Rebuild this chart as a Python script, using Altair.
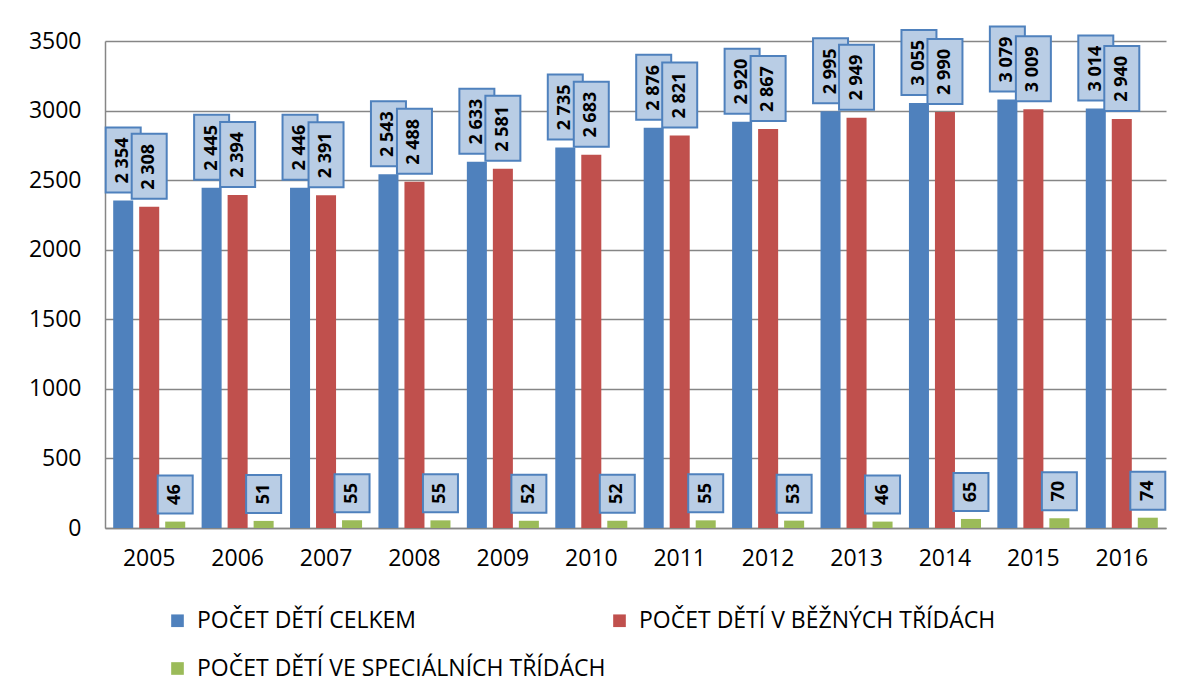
import altair as alt
import pandas as pd

years = ["2005", "2006", "2007", "2008", "2009", "2010", "2011", "2012", "2013", "2014", "2015", "2016"]
series = ["POČET DĚTÍ CELKEM", "POČET DĚTÍ V BĚŽNÝCH TŘÍDÁCH", "POČET DĚTÍ VE SPECIÁLNÍCH TŘÍDÁCH"]
celkem = [2354, 2445, 2446, 2543, 2633, 2735, 2876, 2920, 2995, 3055, 3079, 3014]
bezne = [2308, 2394, 2391, 2488, 2581, 2683, 2821, 2867, 2949, 2990, 3009, 2940]
specialni = [46, 51, 55, 55, 52, 52, 55, 53, 46, 65, 70, 74]
colors = ["#4F81BD", "#C0504D", "#9BBB59"]

rows = []
for i, y in enumerate(years):
    for s, vals in zip(series, [celkem, bezne, specialni]):
        v = vals[i]
        rows.append({"rok": y, "serie": s, "hodnota": v,
                     "popisek": f"{v:,}".replace(",", " ")})
df = pd.DataFrame(rows)

FONT = "Open Sans"

x = alt.X("rok:N", sort=years, title=None,
          scale=alt.Scale(paddingInner=0, paddingOuter=0),
          axis=alt.Axis(labelAngle=0, labelFontSize=23, labelPadding=19, ticks=False,
                        domainColor="#868686", domainWidth=1.5, labelColor="#000000"))
xo = alt.XOffset("serie:N", sort=series,
                 scale=alt.Scale(paddingInner=0.23, paddingOuter=0.315))
yv = alt.Y("hodnota:Q", title=None,
           scale=alt.Scale(domain=[0, 3500], nice=False),
           axis=alt.Axis(values=[0, 500, 1000, 1500, 2000, 2500, 3000, 3500], format="d",
                         labelFontSize=23, labelPadding=24, ticks=False,
                         domainColor="#868686", domainWidth=1.5,
                         gridColor="#868686", gridWidth=1.5, labelColor="#000000"))

base = alt.Chart(df)

bars = base.mark_bar().encode(
    x=x, xOffset=xo, y=yv,
    color=alt.Color("serie:N", sort=series,
                    scale=alt.Scale(domain=series, range=colors),
                    legend=alt.Legend(title=None, orient="none", legendX=61, legendY=568,
                                      direction="horizontal",
                                      columns=2, gridAlign="all", columnPadding=2,
                                      rowPadding=24, symbolType="square", symbolSize=160,
                                      symbolStrokeWidth=0, labelFontSize=23, labelOffset=8,
                                      labelLimit=600, labelColor="#000000", labelFont=FONT))
)

big = base.transform_filter("datum.hodnota >= 1000")
small = base.transform_filter("datum.hodnota < 1000")

box_style = dict(color="#B9CDE5", stroke="#4F81BD", strokeWidth=2, width=35)

big_box = big.mark_bar(yOffset=-8, y2Offset=-73, **box_style).encode(
    x=x, xOffset=xo, y=yv, y2="hodnota:Q")
small_box = small.mark_bar(yOffset=-8, y2Offset=-46, **box_style).encode(
    x=x, xOffset=xo, y=yv, y2="hodnota:Q")

text_style = dict(angle=270, align="center", baseline="middle", fontWeight="bold",
                  fontSize=18, font=FONT, color="#000000")
big_text = big.mark_text(yOffset=-40, **text_style).encode(
    x=x, xOffset=xo, y=yv, text="popisek:N")
small_text = small.mark_text(yOffset=-27, **text_style).encode(
    x=x, xOffset=xo, y=yv, text="popisek:N")

chart = alt.layer(bars, big_box, small_box, big_text, small_text).properties(
    width=1061, height=487,
    autosize=alt.AutoSizeParams(type="none"),
    padding={"left": 97, "top": 33, "right": 8, "bottom": 158},
).configure(font=FONT).configure_view(stroke=None).configure_axis(labelFont=FONT)

chart.save("out.html", embed_options={"renderer": "svg", "actions": False})
